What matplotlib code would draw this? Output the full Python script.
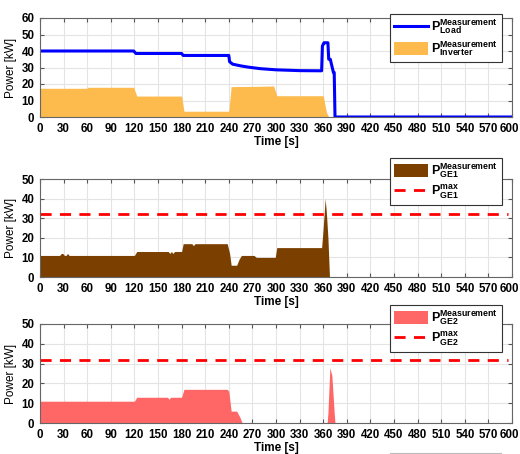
import matplotlib
matplotlib.use("Agg")
import matplotlib.pyplot as plt
import matplotlib.transforms as mtransforms
from matplotlib.lines import Line2D

plt.rcParams['font.family'] = ['Liberation Sans', 'DejaVu Sans']
plt.rcParams['mathtext.fontset'] = 'custom'
plt.rcParams['mathtext.rm'] = 'Liberation Sans'
plt.rcParams['mathtext.bf'] = 'Liberation Sans:bold'

# ---- data (time in s, power in kW) ----
t_load = [0, 60, 119, 122, 180, 182, 240, 241, 245, 255, 265, 280, 300, 330, 358, 359, 361, 363, 366, 367, 369, 371, 372, 373, 374, 375, 600]
p_load = [40, 40, 40, 38.5, 38.5, 37.3, 37.3, 33.5, 32, 31, 30.2, 29.3, 28.6, 28.1, 28, 43, 45, 45, 45, 35, 35, 31, 29, 27, 27, 0, 0]

t_inv = [0, 60, 61, 119, 123, 180, 183, 240, 243, 280, 297, 301, 360, 364, 367, 600]
p_inv = [17.4, 17.4, 18, 18, 12.7, 12.7, 3.5, 3.5, 18.4, 18.6, 18.8, 12.9, 12.9, 3, 0, 0]

t_ge1 = [0, 25, 27, 29, 31, 33, 35, 37, 120, 123, 163, 165, 167, 169, 171, 180, 182, 193, 195, 197, 199, 238, 241, 243, 250, 253, 256, 272, 275, 299, 301, 358, 360, 362.5, 364, 366, 368, 600]
p_ge1 = [11, 11, 12, 12, 11, 11, 12, 11, 11, 13, 13, 12, 13, 12, 13, 13, 17, 17, 16, 17, 17, 17, 12, 6, 6, 9, 11, 11, 10, 10, 15, 15, 25, 40, 33, 20, 0, 0]

t_ge2 = [0, 120, 123, 162, 164, 166, 168, 180, 183, 238, 240, 243, 250, 254, 257, 365, 366, 368.5, 371, 374, 375, 600]
p_ge2 = [11, 11, 13, 13, 12, 13, 13, 13, 17, 17, 16, 6, 6, 3, 0, 0, 5, 28, 24, 5, 0, 0]

t_max = [0, 595]
p_max = [32, 32]

xticks = list(range(0, 601, 30))

W, H = 520, 454
fig = plt.figure(figsize=(W / 100, H / 100), dpi=100)

def make_ax(top_px, bot_px, ymax):
    ax = fig.add_axes([40 / W, 1 - bot_px / H, 472 / W, (bot_px - top_px) / H])
    ax.set_xlim(0, 600)
    ax.set_ylim(0, ymax)
    ax.set_xticks(xticks)
    ax.set_yticks(range(0, ymax + 1, 10))
    ax.grid(True, color='#e4e4e4', linewidth=0.8)
    ax.set_axisbelow(True)
    ax.tick_params(direction='in', top=True, right=True, length=3, width=0.8,
                   labelsize=8.3, pad=4, color='#555555')
    for lab in ax.get_xticklabels() + ax.get_yticklabels():
        lab.set_fontweight('bold')
    # keep the last x label inside the image
    last = ax.get_xticklabels()[-1]
    last.set_transform(last.get_transform() +
                       mtransforms.ScaledTranslation(-2.5 / 100, 0, fig.dpi_scale_trans))
    for s in ax.spines.values():
        s.set_color('#666666')
        s.set_linewidth(0.8)
    ax.set_ylabel('Power [kW]', fontsize=8.5, labelpad=3)
    ax.set_xlabel('Time [s]', fontsize=8.5, fontweight='bold', labelpad=1)
    return ax

def leg(ax, top_px, handles=None, labels=None):
    kw = dict(loc='upper left', bbox_to_anchor=(390 / W, 1 - top_px / H),
              bbox_transform=fig.transFigure, fontsize=9, frameon=True,
              fancybox=False, edgecolor='#333333', framealpha=1,
              handlelength=2.7, handleheight=1.2, borderpad=0.3,
              labelspacing=0.25, handletextpad=0.3, borderaxespad=0)
    if handles is None:
        lg = ax.legend(**kw)
    else:
        lg = ax.legend(handles, labels, **kw)
    lg.get_frame().set_linewidth(0.8)
    lg.set_zorder(10)
    return lg

def lab(top, sub):
    return r'$\mathbf{P}^{\mathbf{%s}}_{\mathbf{%s}}$' % (top, sub)

# top
ax1 = make_ax(18, 117, 60)
ax1.fill_between(t_inv, p_inv, color='#FDBA4D', linewidth=0, label=lab('Measurement', 'Inverter'))
ax1.plot(t_load, p_load, color='#0000FF', linewidth=2.2, label=lab('Measurement', 'Load'))
h, l = ax1.get_legend_handles_labels()
leg(ax1, 14, [h[1], h[0]], [l[1], l[0]])

# middle
ax2 = make_ax(179, 277, 50)
ax2.fill_between(t_ge1, p_ge1, color='#7B3F00', linewidth=0, label=lab('Measurement', 'GE1'))
ax2.plot(t_max, p_max, color='#FF0000', linestyle=(0, (4, 3)), linewidth=2, label=lab('max', 'GE1'))
leg(ax2, 158)

# bottom
ax3 = make_ax(324, 423, 50)
ax3.fill_between(t_ge2, p_ge2, color='#FF6666', linewidth=0, label=lab('Measurement', 'GE2'))
ax3.plot(t_max, p_max, color='#FF0000', linestyle=(0, (4, 3)), linewidth=2, label=lab('max', 'GE2'))
leg(ax3, 305)

# top edge of a further legend box visible at the bottom of the image
fig.add_artist(Line2D([390 / W, 501 / W], [1 - 452.5 / H, 1 - 452.5 / H],
                      transform=fig.transFigure, color='#bbbbbb', linewidth=0.8))

fig.savefig('out.png', dpi=100, facecolor='white')
